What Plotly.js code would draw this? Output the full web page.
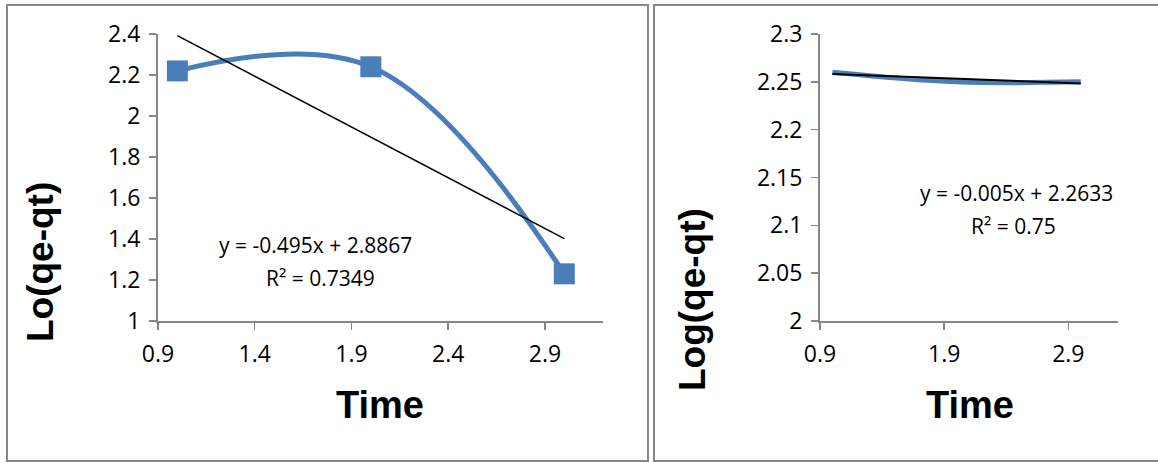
<!DOCTYPE html>
<html>
<head>
<meta charset="utf-8">
<script src="https://cdn.plot.ly/plotly-3.0.1.min.js"></script>
<style>html,body{margin:0;padding:0;background:#fff;}#chart{width:1158px;height:463px;}</style>
</head>
<body>
<div id="chart"></div>
<script>
// Left chart data
const timeLeft = [1, 2, 3];
const logLeft = [2.22, 2.24, 1.23];
const slopeLeft = -0.495;
const interceptLeft = 2.8867;
const eqLeft = "y = -0.495x + 2.8867";
const r2Left = "R² = 0.7349";

// Right chart data
const timeRight = [1, 2, 3];
const logRight = [2.26, 2.25, 2.25];
const slopeRight = -0.005;
const interceptRight = 2.2633;
const eqRight = "y = -0.005x + 2.2633";
const r2Right = "R² = 0.75";

const ticksLeftX = [0.9, 1.4, 1.9, 2.4, 2.9];
const ticksLeftY = [1, 1.2, 1.4, 1.6, 1.8, 2, 2.2, 2.4];
const ticksRightX = [0.9, 1.9, 2.9];
const ticksRightY = [2, 2.05, 2.1, 2.15, 2.2, 2.25, 2.3];

const xTitle = "Time";
const yTitleLeft = "Lo(qe-qt)";
const yTitleRight = "Log(qe-qt)";

const W = 1158, H = 463;
const px = v => v / W;
const py = v => 1 - v / H;

const trendEnds = xs => [xs[0], xs[xs.length - 1]];
const tlx = trendEnds(timeLeft), trx = trendEnds(timeRight);

const blue = '#4a7ebb';
const fontFam = '"Open Sans", "Liberation Sans", sans-serif';
const titleFam = '"Liberation Sans", Arial, sans-serif';

const traces = [
  {x: timeLeft, y: logLeft, xaxis: 'x', yaxis: 'y', type: 'scatter', mode: 'lines+markers',
   line: {color: blue, width: 5, shape: 'spline', smoothing: 1.1},
   marker: {symbol: 'square', size: 21, color: blue}, cliponaxis: false},
  {x: tlx, y: tlx.map(v => slopeLeft * v + interceptLeft), xaxis: 'x', yaxis: 'y', type: 'scatter', mode: 'lines',
   line: {color: '#000', width: 1.5}},
  {x: timeRight, y: logRight, xaxis: 'x2', yaxis: 'y2', type: 'scatter', mode: 'lines',
   line: {color: blue, width: 5, shape: 'spline', smoothing: 1.1}},
  {x: trx, y: trx.map(v => slopeRight * v + interceptRight), xaxis: 'x2', yaxis: 'y2', type: 'scatter', mode: 'lines',
   line: {color: '#000', width: 2}}
];

const axisCommon = {
  showgrid: false, zeroline: false, showline: true, linecolor: '#868686', linewidth: 2,
  ticks: 'outside', ticklen: 7, tickcolor: '#868686', tickwidth: 1.5, ticklabelstandoff: 4,
  tickfont: {family: fontFam, size: 23, color: '#000'}, fixedrange: true
};

const tFont = {family: titleFam, size: 38, color: '#000', weight: 'bold'};
const yFont = {family: titleFam, size: 37, color: '#000', weight: 'bold'};
const aFont = {family: fontFam, size: 21, color: '#000'};

const layout = {
  width: W, height: H,
  margin: {l: 0, r: 0, t: 0, b: 0},
  paper_bgcolor: '#fff', plot_bgcolor: '#fff',
  showlegend: false,
  xaxis: Object.assign({}, axisCommon, {
    domain: [px(158), px(603)], range: [0.9, 3.2], anchor: 'y',
    tickmode: 'array', tickvals: ticksLeftX, ticktext: ticksLeftX.map(String)
  }),
  yaxis: Object.assign({}, axisCommon, {
    domain: [py(321), py(34)], range: [1, 2.4], anchor: 'x',
    tickmode: 'array', tickvals: ticksLeftY, ticktext: ticksLeftY.map(String)
  }),
  xaxis2: Object.assign({}, axisCommon, {
    domain: [px(820), px(1118)], range: [0.9, 3.3], anchor: 'y2',
    tickmode: 'array', tickvals: ticksRightX, ticktext: ticksRightX.map(String)
  }),
  yaxis2: Object.assign({}, axisCommon, {
    domain: [py(321), py(34)], range: [2, 2.3], anchor: 'x2',
    tickmode: 'array', tickvals: ticksRightY, ticktext: ticksRightY.map(String)
  }),
  shapes: [
    {type: 'rect', xref: 'paper', yref: 'paper', x0: px(7), x1: px(648), y0: py(461), y1: py(5),
     line: {color: '#878787', width: 2}, layer: 'below'},
    {type: 'rect', xref: 'paper', yref: 'paper', x0: px(654), x1: px(1166), y0: py(461), y1: py(5),
     line: {color: '#878787', width: 2}, layer: 'below'}
  ],
  annotations: [
    {xref: 'paper', yref: 'paper', x: px(315), y: py(245), xanchor: 'center', yanchor: 'middle', text: eqLeft, showarrow: false, font: aFont},
    {xref: 'paper', yref: 'paper', x: px(320), y: py(278), xanchor: 'center', yanchor: 'middle', text: r2Left, showarrow: false, font: aFont},
    {xref: 'paper', yref: 'paper', x: px(1016), y: py(193), xanchor: 'center', yanchor: 'middle', text: eqRight, showarrow: false, font: aFont},
    {xref: 'paper', yref: 'paper', x: px(1013), y: py(226), xanchor: 'center', yanchor: 'middle', text: r2Right, showarrow: false, font: aFont},
    {xref: 'paper', yref: 'paper', x: px(380), y: py(405), xanchor: 'center', yanchor: 'middle', text: xTitle, showarrow: false, font: tFont},
    {xref: 'paper', yref: 'paper', x: px(970), y: py(405), xanchor: 'center', yanchor: 'middle', text: xTitle, showarrow: false, font: tFont},
    {xref: 'paper', yref: 'paper', x: px(40), y: py(262), xanchor: 'center', yanchor: 'middle', textangle: -90, text: yTitleLeft, showarrow: false, font: yFont},
    {xref: 'paper', yref: 'paper', x: px(692), y: py(300), xanchor: 'center', yanchor: 'middle', textangle: -90, text: yTitleRight, showarrow: false, font: yFont}
  ]
};

Plotly.newPlot('chart', traces, layout, {displayModeBar: false, staticPlot: true});
</script>
</body>
</html>
